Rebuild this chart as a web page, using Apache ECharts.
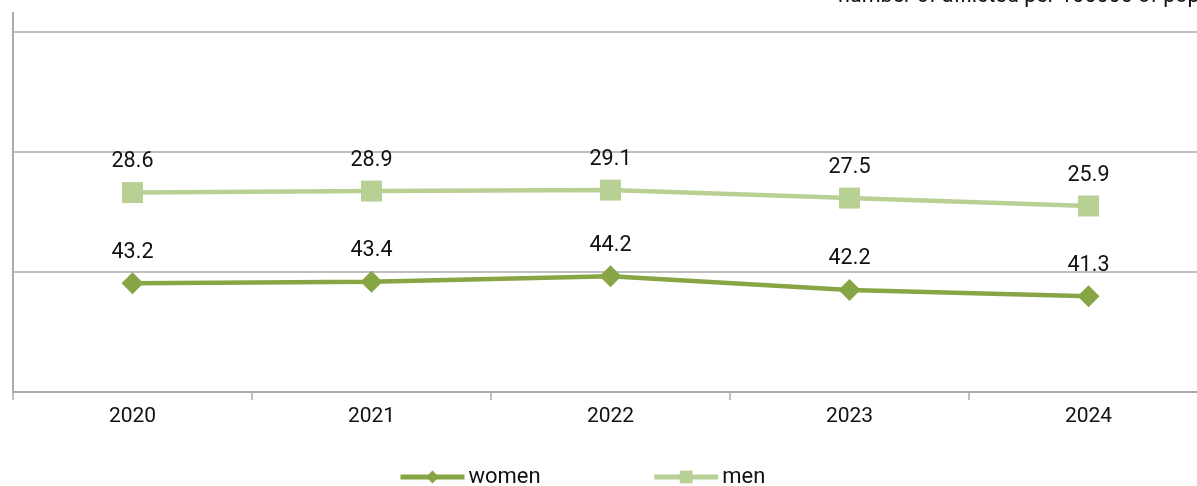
<!DOCTYPE html>
<html>
<head>
<meta charset="utf-8">
<script src="https://cdn.jsdelivr.net/npm/echarts@6/dist/echarts.min.js"></script>
<style>html,body{margin:0;padding:0;background:#fff;overflow:hidden;width:1197px;height:486px;}#c{width:1208px;height:486px;}</style>
</head>
<body>
<div id="c"></div>
<script>
const years = ['2020', '2021', '2022', '2023', '2024'];
const women = [43.2, 43.4, 44.2, 42.2, 41.3];
const men = [28.6, 28.9, 29.1, 27.5, 25.9];
const unitNote = 'number of afflicted per 100000 of population';

const chart = echarts.init(document.getElementById('c'));
const font = 'Roboto, "Noto Sans", sans-serif';
chart.setOption({
  animation: false,
  textStyle: { fontFamily: font },
  graphic: [
    { type: 'text', left: 838, top: -14,
      style: { text: unitNote, font: '21.5px ' + font, fill: '#111' } },
    { type: 'line', shape: { x1: 13, y1: 12, x2: 13, y2: 32 },
      style: { stroke: '#aaaaaa', lineWidth: 2 } }
  ],
  legend: {
    left: 398, top: 466, padding: 0,
    itemWidth: 64, itemHeight: 16, itemGap: 111,
    lineStyle: { width: 5 },
    textStyle: { fontSize: 22, color: '#111', fontFamily: font, padding: [0, 0, 0, -1] },
    data: ['women', 'men']
  },
  grid: { left: 13, right: 0, top: 32, bottom: 94 },
  xAxis: {
    type: 'category', data: years, boundaryGap: true,
    axisLine: { lineStyle: { color: '#aaaaaa', width: 2 } },
    axisTick: { show: true, length: 8, lineStyle: { color: '#aaaaaa', width: 1.5 } },
    axisLabel: { fontSize: 21, color: '#111', margin: 14, fontFamily: font }
  },
  yAxis: [
    { type: 'value', min: 0, max: 18, interval: 6,
      axisLine: { show: true, lineStyle: { color: '#aaaaaa', width: 2 } },
      axisTick: { show: false }, axisLabel: { show: false },
      splitLine: { lineStyle: { color: '#aaaaaa', width: 1.5 } } },
    { type: 'value', min: -11.4, max: 60.8, show: false, splitLine: { show: false } },
    { type: 'value', min: 27.3, max: 79.9, show: false, splitLine: { show: false } }
  ],
  series: [
    { name: 'women', type: 'line', yAxisIndex: 2, data: women,
      symbol: 'diamond', symbolSize: 22,
      lineStyle: { color: '#87a544', width: 4.5 },
      itemStyle: { color: '#87a544' },
      label: { show: true, position: 'top', distance: 9, fontSize: 21.5, color: '#111', fontFamily: font } },
    { name: 'men', type: 'line', yAxisIndex: 1, data: men,
      symbol: 'rect', symbolSize: 21,
      lineStyle: { color: '#b9d095', width: 4.5 },
      itemStyle: { color: '#b9d095' },
      label: { show: true, position: 'top', distance: 9, fontSize: 21.5, color: '#111', fontFamily: font } }
  ]
});
</script>
</body>
</html>
